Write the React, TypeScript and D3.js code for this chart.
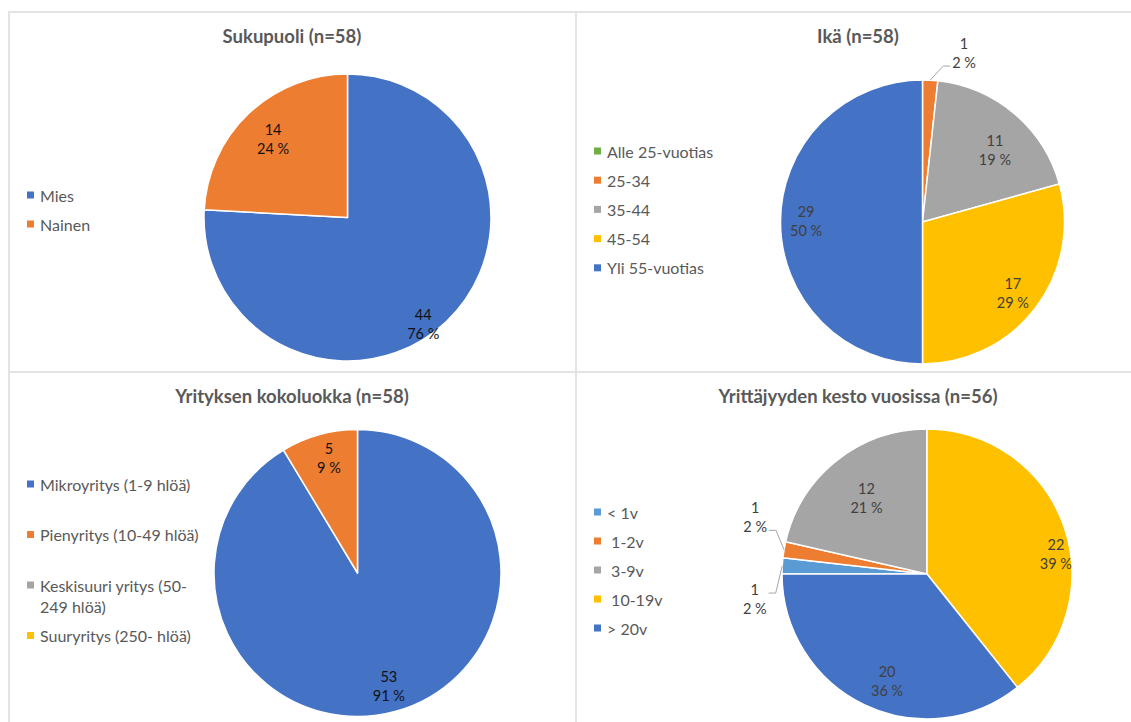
import * as d3 from "d3";
import { useEffect, useRef } from "react";

const W = 1131;
const H = 722;

// Sukupuoli
const genderCategories = ["Mies", "Nainen"];
const genderValues = [44, 14];

// Ikä
const ageCategories = ["Alle 25-vuotias", "25-34", "35-44", "45-54", "Yli 55-vuotias"];
const ageValues = [0, 1, 11, 17, 29];

// Yrityksen kokoluokka
const sizeCategories = [
  "Mikroyritys (1-9 hlöä)",
  "Pienyritys (10-49 hlöä)",
  "Keskisuuri yritys (50-249 hlöä)",
  "Suuryritys (250- hlöä)",
];
const sizeValues = [53, 5, 0, 0];

// Yrittäjyyden kesto
const durationCategories = ["< 1v", " 1-2v", " 3-9v", " 10-19v", "> 20v"];
const durationValues = [1, 1, 12, 22, 20];

const C = {
  blue: "#4472C4",
  orange: "#ED7D31",
  gray: "#A5A5A5",
  gold: "#FFC000",
  lightBlue: "#5B9BD5",
  green: "#70AD47",
};

const FONT = "Lato, 'Open Sans', sans-serif";

interface Panel {
  title: string;
  n: number;
  categories: string[];
  values: number[];
  colors: string[];
  startDeg: number;
  titleX: number;
  titleY: number;
  cx: number;
  cy: number;
  r: number;
  legendX: number;
  legendY: number;
  legendStep: number;
  labelColor: string;
  // per slice: [radius fraction, angle offset in degrees] (Excel best-fit placement)
  labelPos: [number, number][];
}

const panels: Panel[] = [
  {
    title: "Sukupuoli",
    n: 58,
    categories: genderCategories,
    values: genderValues,
    colors: [C.blue, C.orange],
    startDeg: 0,
    titleX: 292,
    titleY: 36,
    cx: 347.5,
    cy: 217.5,
    r: 143.5,
    legendX: 27,
    legendY: 195,
    legendStep: 29,
    labelColor: "#111",
    labelPos: [
      [0.91, 8],
      [0.754, 0],
    ],
  },
  {
    title: "Ikä",
    n: 58,
    categories: ageCategories,
    values: ageValues,
    colors: [C.green, C.orange, C.gray, C.gold, C.blue],
    startDeg: 0,
    titleX: 858,
    titleY: 36,
    cx: 922.5,
    cy: 222,
    r: 142,
    legendX: 594,
    legendY: 151,
    legendStep: 29.2,
    labelColor: "#404040",
    labelPos: [
      [0, 0],
      [1.225, 10.7],
      [0.717, 5],
      [0.81, 1],
      [0.82, 0.5],
    ],
  },
  {
    title: "Yrityksen kokoluokka",
    n: 58,
    categories: sizeCategories,
    values: sizeValues,
    colors: [C.blue, C.orange, C.gray, C.gold],
    startDeg: 0,
    titleX: 292,
    titleY: 396,
    cx: 357.5,
    cy: 573,
    r: 143.5,
    legendX: 27,
    legendY: 484,
    legendStep: 50.5,
    labelColor: "#111",
    labelPos: [
      [0.816, 0],
      [0.829, 1.6],
      [0, 0],
      [0, 0],
    ],
  },
  {
    title: "Yrittäjyyden kesto vuosissa",
    n: 56,
    categories: durationCategories,
    values: durationValues,
    colors: [C.lightBlue, C.orange, C.gray, C.gold, C.blue],
    startDeg: 270,
    titleX: 858,
    titleY: 396,
    cx: 927,
    cy: 574,
    r: 145,
    legendX: 594,
    legendY: 512,
    legendStep: 29,
    labelColor: "#404040",
    labelPos: [
      [1.2, -11.5],
      [1.248, 8.6],
      [0.669, 0],
      [0.9, 10.3],
      [0.79, -5.3],
    ],
  },
];

const rad = (deg: number) => (deg * Math.PI) / 180;

function drawPanel(svg: d3.Selection<SVGSVGElement, unknown, null, undefined>, p: Panel) {
  const g = svg.append("g");
  const total = d3.sum(p.values);

  g.append("text")
    .attr("x", p.titleX)
    .attr("y", p.titleY)
    .attr("text-anchor", "middle")
    .attr("dominant-baseline", "central")
    .attr("font-family", FONT)
    .attr("font-weight", 700)
    .attr("font-size", 18.5)
    .attr("fill", "#595959")
    .text(`${p.title} (n=${p.n})`);

  const pie = d3
    .pie<number>()
    .sort(null)
    .value((d) => d)
    .startAngle(rad(p.startDeg))
    .endAngle(rad(p.startDeg) + 2 * Math.PI);
  const arcs = pie(p.values);
  const arc = d3.arc<d3.PieArcDatum<number>>().innerRadius(0).outerRadius(p.r);

  const pg = g.append("g").attr("transform", `translate(${p.cx},${p.cy})`);
  pg.selectAll("path")
    .data(arcs.filter((a) => a.value > 0))
    .join("path")
    .attr("d", arc)
    .attr("fill", (a) => p.colors[a.index])
    .attr("stroke", "#fff")
    .attr("stroke-width", 1.5)
    .attr("stroke-linejoin", "round");

  // data labels
  const lineH = 19;
  arcs.forEach((a, i) => {
    if (a.value <= 0) return;
    const [frac, off] = p.labelPos[i];
    const mid = (a.startAngle + a.endAngle) / 2;
    const ang = mid + rad(off);
    const lr = frac * p.r;
    const lx = Math.sin(ang) * lr;
    const ly = -Math.cos(ang) * lr;
    const pct = Math.round((a.value / total) * 100);
    const lines = [`${a.value}`, `${pct} %`];
    const tg = pg.append("g");
    lines.forEach((t, k) => {
      tg.append("text")
        .attr("x", lx)
        .attr("y", ly + (k - 0.5) * lineH)
        .attr("text-anchor", "middle")
        .attr("dominant-baseline", "central")
        .attr("font-family", FONT)
        .attr("font-size", 14.5)
        .attr("fill", p.labelColor)
        .text(t);
    });
    if (frac > 1) {
      const bb = (tg.node() as SVGGElement).getBBox();
      const px = Math.sin(mid) * p.r;
      const py = -Math.cos(mid) * p.r;
      const side = px > lx ? 1 : -1;
      const ex = side > 0 ? bb.x + bb.width + 2 : bb.x - 2;
      const lineYs = lines.map((_, k) => ly + (k - 0.5) * lineH);
      const ny = lineYs.reduce((best, y) => (Math.abs(y - py) < Math.abs(best - py) ? y : best));
      const ey = ny + 3.5;
      const elbowX = ex + side * 7;
      pg.append("path")
        .attr("d", d3.line()([
          [ex, ey],
          [elbowX, ey],
          [px, py],
        ]))
        .attr("fill", "none")
        .attr("stroke", "#A6A6A6")
        .attr("stroke-width", 1);
    }
  });

  // legend
  const maxW = 165;
  let y = p.legendY;
  p.categories.forEach((cat, i) => {
    const item = g.append("g");
    item
      .append("rect")
      .attr("x", p.legendX)
      .attr("y", y - 3.5)
      .attr("width", 7)
      .attr("height", 7)
      .attr("fill", p.colors[i]);
    const text = item
      .append("text")
      .attr("x", p.legendX + 13)
      .attr("y", y)
      .attr("dominant-baseline", "central")
      .attr("font-family", FONT)
      .attr("font-size", 16)
      .attr("fill", "#595959")
      .attr("xml:space", "preserve")
      .text(cat);
    const node = text.node() as SVGTextElement;
    if (node.getComputedTextLength() > maxW) {
      // wrap at spaces / after hyphens
      const tokens = cat.match(/[^\s-]+-?|\s+/g) ?? [cat];
      const rows: string[] = [];
      let cur = "";
      tokens.forEach((tok) => {
        const trial = cur + tok;
        text.text(trial.trim());
        if (node.getComputedTextLength() > maxW && cur.trim()) {
          rows.push(cur.trim());
          cur = tok.trim() ? tok : "";
        } else {
          cur = trial;
        }
      });
      if (cur.trim()) rows.push(cur.trim());
      text.text(null);
      rows.forEach((row, k) => {
        text
          .append("tspan")
          .attr("x", p.legendX + 13)
          .attr("y", y + k * 21)
          .text(row);
      });
    }
    y += p.legendStep;
  });
}

export default function App() {
  const ref = useRef<SVGSVGElement>(null);

  useEffect(() => {
    const el = ref.current;
    if (!el) return;
    const svg = d3.select(el);
    svg.selectAll("*").remove();

    svg.append("rect").attr("width", W).attr("height", H).attr("fill", "#fff");

    // panel frame lines
    const frame = svg.append("g").attr("stroke", "#E3E3E3").attr("stroke-width", 2);
    frame.append("line").attr("x1", 9).attr("x2", 9).attr("y1", 11).attr("y2", H);
    frame.append("line").attr("x1", 576).attr("x2", 576).attr("y1", 11).attr("y2", H);
    frame.append("line").attr("x1", 8).attr("x2", W).attr("y1", 12).attr("y2", 12);
    frame.append("line").attr("x1", 8).attr("x2", W).attr("y1", 372).attr("y2", 372);

    panels.forEach((p) => drawPanel(svg, p));
  }, []);

  return (
    <svg
      ref={ref}
      width={W}
      height={H}
      style={{ position: "absolute", left: 0, top: 0, display: "block" }}
    />
  );
}
